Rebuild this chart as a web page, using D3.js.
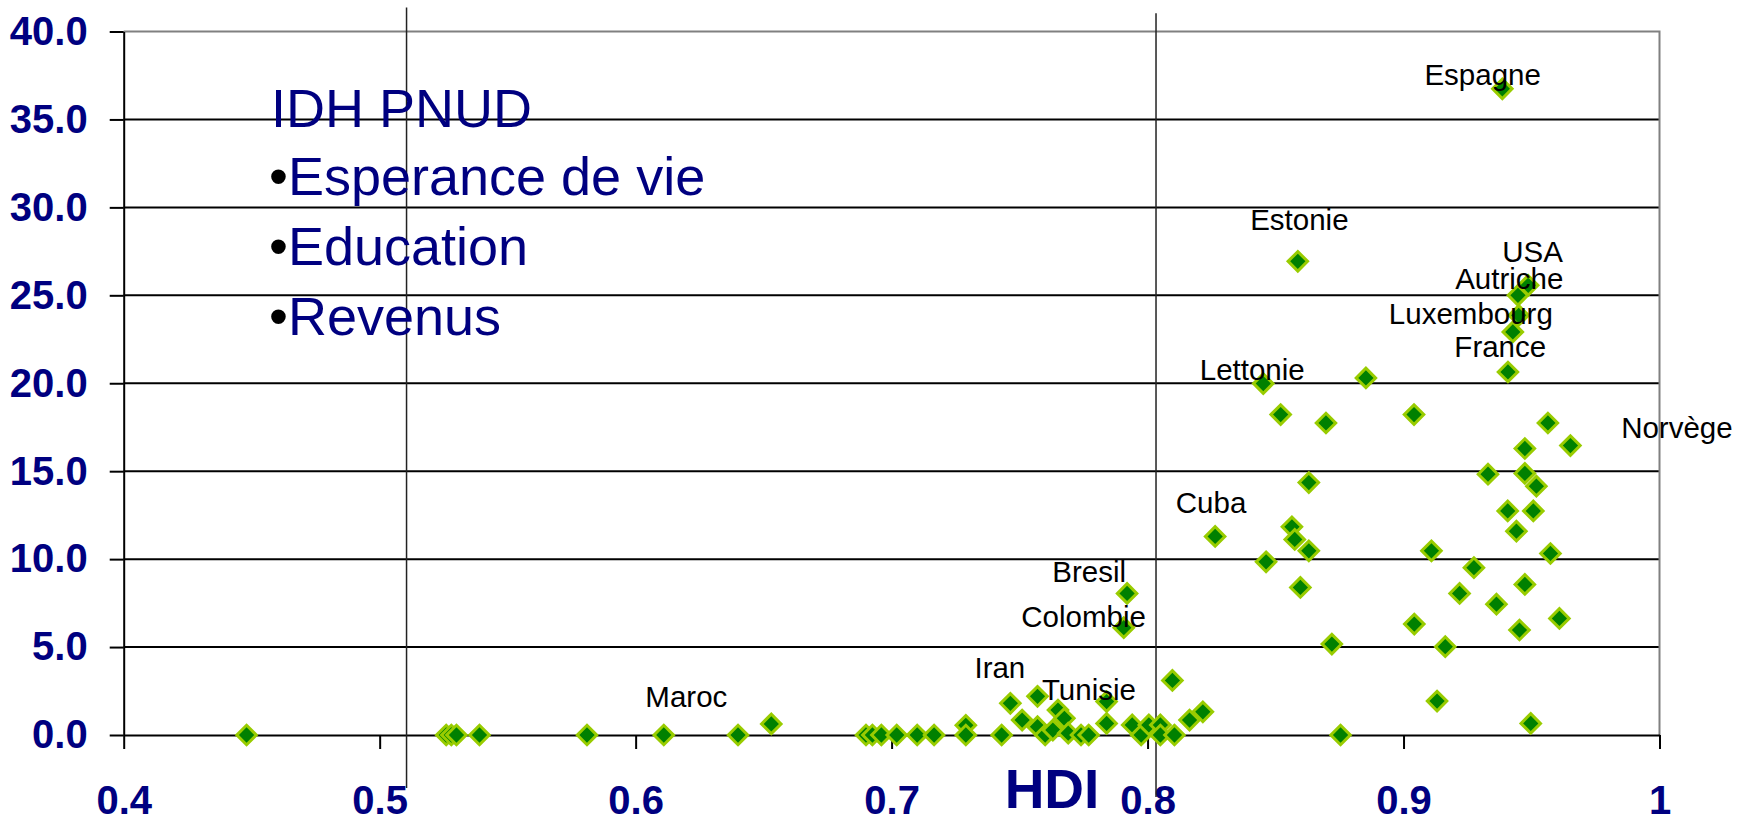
<!DOCTYPE html>
<html>
<head>
<meta charset="utf-8">
<script src="https://cdn.jsdelivr.net/npm/d3@7"></script>
<style>
  body { margin: 0; background: #fff; }
  svg { display: block; font-family: "Liberation Sans", Arial, sans-serif; }
</style>
</head>
<body>
<svg id="chart" width="1750" height="822"></svg>
<script>
// HDI (x) and value (y) for each country
const hdi = [
  0.448, 0.526, 0.528, 0.530, 0.539, 0.581, 0.611, 0.640, 0.653, 0.690,
  0.6925, 0.696, 0.702, 0.710, 0.7166, 0.729, 0.729, 0.743, 0.7464, 0.751,
  0.757, 0.757, 0.760, 0.763, 0.765, 0.7675, 0.769, 0.774, 0.777, 0.784,
  0.784, 0.794, 0.7975, 0.8005, 0.805, 0.805, 0.8097, 0.8105, 0.8164, 0.8216,
  0.7907, 0.792, 0.8264, 0.8452, 0.852, 0.8697, 0.9041, 0.8853, 0.8587, 0.9386,
  0.9487, 0.9447, 0.945, 0.9427, 0.9408, 0.9564, 0.9652, 0.9474, 0.863, 0.933,
  0.9474, 0.9519, 0.8564, 0.8575, 0.863, 0.8463, 0.8597, 0.9407, 0.9507, 0.9441,
  0.9109, 0.9574, 0.9275, 0.9474, 0.9219, 0.9363, 0.9609, 0.9042, 0.9453, 0.872,
  0.9163, 0.8754, 0.9131, 0.9497
];
const values = [
  0, 0, 0, 0, 0, 0, 0, 0, 0.63, 0,
  0, 0, 0, 0, 0, 0.55, 0, 0, 1.8, 0.85,
  2.2, 0.47, 0, 0.28, 1.42, 0.95, 0.1, 0, 0, 1.9,
  0.66, 0.57, 0, 0.57, 0.57, 0, 3.1, 0, 0.85, 1.32,
  6.1, 8.05, 11.29, 19.98, 18.22, 17.74, 18.22, 20.3, 26.93, 36.74,
  25.57, 25.0, 23.86, 22.92, 20.64, 17.74, 16.46, 16.29, 14.35, 14.83,
  14.87, 14.15, 11.84, 11.12, 10.47, 9.85, 8.39, 12.74, 12.74, 11.59,
  10.47, 10.32, 9.51, 8.56, 8.05, 7.44, 6.63, 6.31, 5.97, 5.17,
  5.02, 0, 1.93, 0.66
];

// country labels, anchored in data units
const labelNames = ["Espagne", "Estonie", "USA", "Autriche", "Luxembourg", "France", "Lettonie",
  "Norvège", "Cuba", "Bresil", "Colombie", "Iran", "Tunisie", "Maroc"];
const labelX = [0.9309, 0.8593, 0.9504, 0.9413, 0.9263, 0.9378, 0.8409,
  1.0068, 0.8248, 0.7772, 0.775, 0.7423, 0.7771, 0.6198];
const labelY = [36.93, 28.73, 26.89, 25.38, 23.39, 21.49, 20.17,
  16.86, 12.65, 8.71, 6.15, 3.24, 1.99, 1.61];

// axes
const xTicks = [0.4, 0.5, 0.6, 0.7, 0.8, 0.9, 1];
const yTicks = [0, 5, 10, 15, 20, 25, 30, 35, 40];

// hand-drawn vertical marker lines
const refX = [0.5105, 0.8033];
const refTop = [41.36, 41.04];
const refBottom = [-3.01, -3.52];

const legendTitle = "IDH PNUD";
const legendItems = ["Esperance de vie", "Education", "Revenus"];

const NAVY = "#000080";

const svg = d3.select("#chart");
svg.append("rect").attr("width", 1750).attr("height", 822).attr("fill", "#fff");

const x = d3.scaleLinear().domain([0.4, 1]).range([123.7, 1659.5]);
const y = d3.scaleLinear().domain([0, 40]).range([735, 31.5]);

// gridlines
svg.append("g")
  .selectAll("line")
  .data(yTicks.filter(t => t > 0 && t < 40))
  .join("line")
  .attr("x1", x(0.4)).attr("x2", x(1))
  .attr("y1", d => y(d)).attr("y2", d => y(d))
  .attr("stroke", "#000").attr("stroke-width", 2);

// plot border top/right (grey)
svg.append("path")
  .attr("d", `M${x(0.4)},${y(40)}H${x(1)}V${y(0)}`)
  .attr("fill", "none").attr("stroke", "#808080").attr("stroke-width", 2);

// axes
const xAxis = svg.append("g")
  .attr("transform", `translate(0,${y(0)})`)
  .call(d3.axisBottom(x).tickValues(xTicks).tickSize(14).tickSizeOuter(0).tickPadding(37)
    .tickFormat(d => d === 1 ? "1" : d.toFixed(1)));

const yAxis = svg.append("g")
  .attr("transform", `translate(${x(0.4)},0)`)
  .call(d3.axisLeft(y).tickValues(yTicks).tickSize(14).tickSizeOuter(0).tickPadding(22)
    .tickFormat(d3.format(".1f")));

[xAxis, yAxis].forEach(g => {
  g.selectAll("path, line").attr("stroke", "#000").attr("stroke-width", 2);
  g.selectAll("text")
    .attr("fill", NAVY)
    .style("font-size", "40px")
    .style("font-weight", "bold")
    .style("font-family", "'Liberation Sans', Arial, sans-serif");
});

// vertical marker lines
svg.append("g")
  .selectAll("line")
  .data(refX)
  .join("line")
  .attr("x1", d => x(d)).attr("x2", d => x(d))
  .attr("y1", (d, i) => y(refTop[i])).attr("y2", (d, i) => y(refBottom[i]))
  .attr("stroke", "#222").attr("stroke-width", 1.5);

// legend text box
const legend = svg.append("g").attr("fill", NAVY).style("font-size", "54px");
legend.append("text").attr("x", 271).attr("y", 127).text(legendTitle);
legendItems.forEach((t, i) => {
  const tx = legend.append("text").attr("x", 269).attr("y", 195 + i * 70);
  tx.append("tspan").attr("fill", "#000").text("•");
  tx.append("tspan").text(t);
});

// axis title
svg.append("text")
  .attr("x", 1052).attr("y", 808)
  .attr("text-anchor", "middle")
  .attr("fill", NAVY)
  .style("font-size", "55px").style("font-weight", "bold")
  .text("HDI");

// points
const diamond = d3.symbol().type(d3.symbolSquare).size(190);
svg.append("g")
  .selectAll("path")
  .data(hdi)
  .join("path")
  .attr("d", diamond)
  .attr("transform", (d, i) => `translate(${x(d)},${y(values[i])}) rotate(45)`)
  .attr("fill", "#008000")
  .attr("stroke", "#99CC00")
  .attr("stroke-width", 3);

// labels
svg.append("g")
  .selectAll("text")
  .data(labelNames)
  .join("text")
  .attr("x", (d, i) => x(labelX[i]))
  .attr("y", (d, i) => y(labelY[i]))
  .attr("text-anchor", "middle")
  .attr("fill", "#000")
  .style("font-size", "29.5px")
  .text(d => d);
</script>
</body>
</html>
